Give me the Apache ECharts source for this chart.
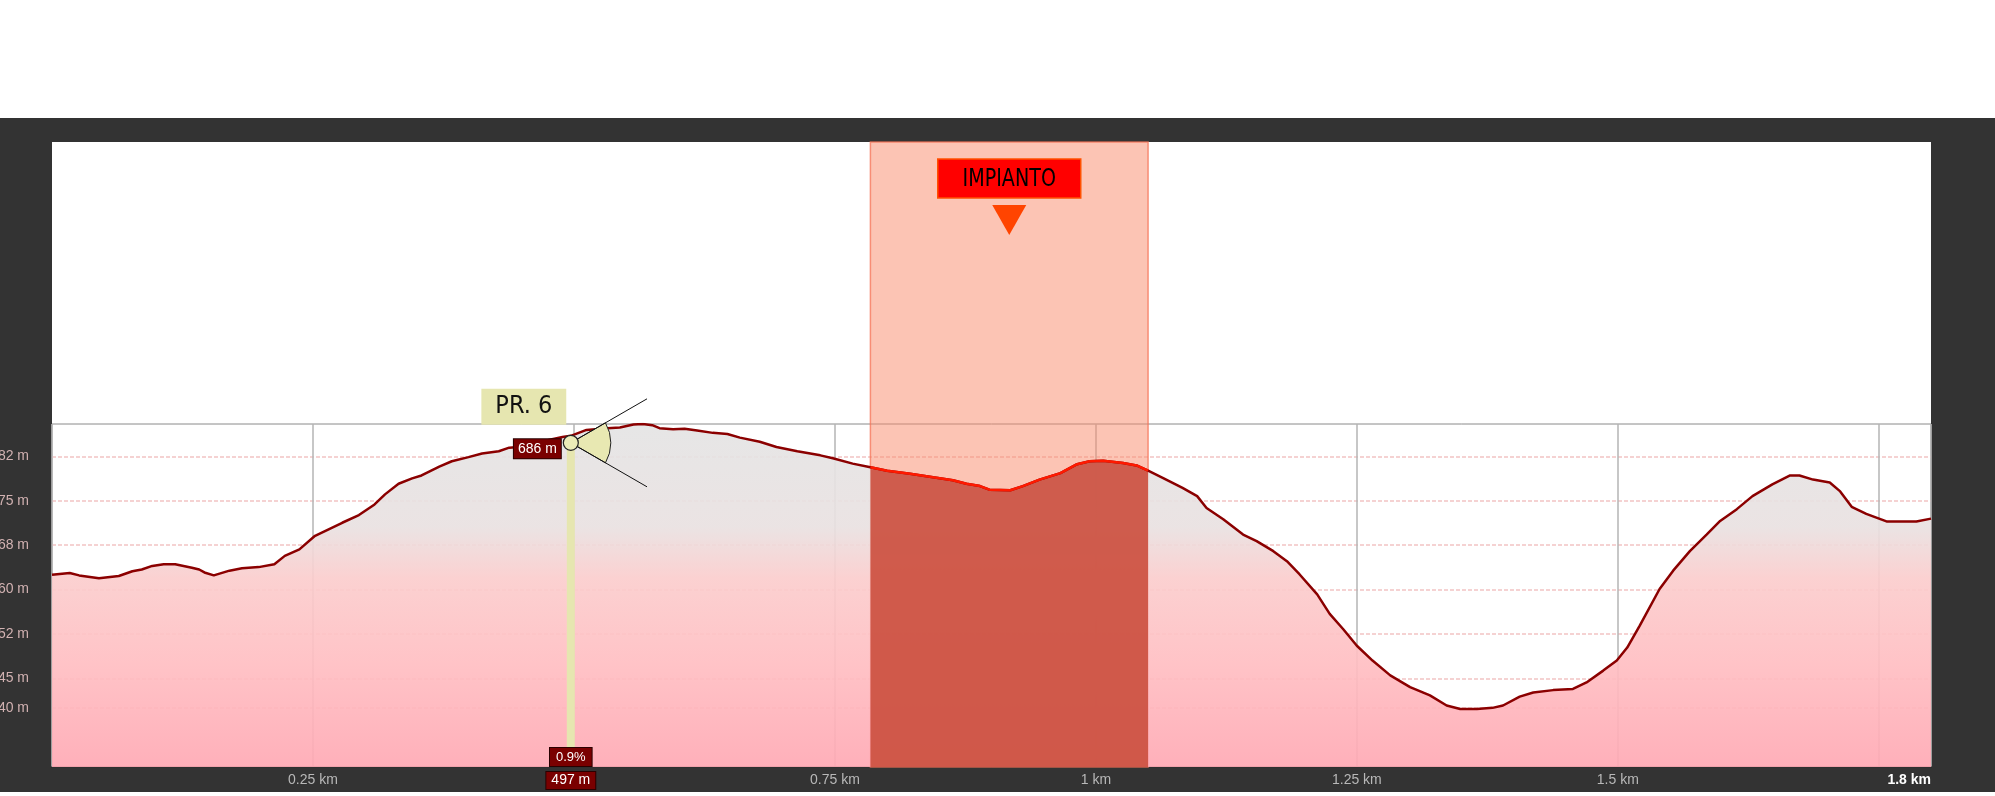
<!DOCTYPE html>
<html>
<head>
<meta charset="utf-8">
<script src="https://cdn.jsdelivr.net/npm/echarts@6/dist/echarts.min.js"></script>
<style>
html,body{margin:0;padding:0;background:#fff;}
#c{width:1995px;height:796px;}
</style>
</head>
<body>
<div id="c"></div>
<script>
// ---- data ----
const distKm = [0.000,0.017,0.026,0.045,0.064,0.077,0.086,0.096,0.107,0.118,
0.134,0.141,0.146,0.155,0.170,0.182,0.198,0.213,0.223,0.237,
0.252,0.265,0.278,0.294,0.309,0.319,0.332,0.345,0.354,0.371,
0.383,0.399,0.412,0.428,0.438,0.447,0.468,0.489,0.497,0.512,
0.532,0.544,0.557,0.566,0.575,0.582,0.595,0.606,0.618,0.633,
0.647,0.659,0.678,0.694,0.714,0.736,0.748,0.767,0.784,0.800,
0.822,0.844,0.863,0.876,0.889,0.898,0.918,0.930,0.946,0.966,
0.982,0.994,1.007,1.026,1.039,1.050,1.064,1.083,1.097,1.106,
1.122,1.141,1.154,1.170,1.183,1.195,1.212,1.224,1.237,1.250,
1.265,1.282,1.301,1.320,1.336,1.349,1.365,1.380,1.390,1.406,
1.419,1.438,1.457,1.470,1.486,1.499,1.509,1.521,1.540,1.553,
1.569,1.585,1.598,1.614,1.629,1.648,1.665,1.674,1.687,1.703,
1.713,1.724,1.738,1.758,1.773,1.786,1.800];
const elevM = [662.5,662.8,662.4,661.9,662.3,663.1,663.4,664.0,664.3,664.3,
663.7,663.4,662.9,662.4,663.2,663.6,663.8,664.3,665.7,666.8,
669.1,670.2,671.3,672.6,674.4,676.1,677.9,678.8,679.3,680.8,
681.7,682.4,683.0,683.4,684.0,684.1,685.0,685.8,686.0,687.0,
687.3,687.4,687.9,688.0,687.8,687.3,687.1,687.2,686.9,686.5,
686.3,685.7,685.0,684.1,683.4,682.7,682.2,681.3,680.7,680.1,
679.6,679.0,678.5,677.9,677.5,676.9,676.8,677.5,678.6,679.7,
681.2,681.7,681.8,681.4,681.0,680.1,678.9,677.2,675.8,673.8,
671.9,669.3,668.2,666.5,664.8,662.6,659.2,655.9,653.3,650.5,
648.0,645.5,643.5,642.1,640.4,639.8,639.8,640.0,640.4,641.9,
642.6,643.0,643.2,644.3,646.3,648.0,650.2,653.9,660.1,663.2,
666.5,669.3,671.6,673.6,675.8,677.8,679.3,679.3,678.6,678.1,
676.6,674.0,672.8,671.5,671.5,671.5,672.0];

const yTickValues = [640, 645, 652.5, 660, 667.5, 675, 682.5];
const yTickLabels = ['640 m', '645 m', '652 m', '660 m', '668 m', '675 m', '682 m'];
const xHiddenTicks = [0, 1.75];
const xEndLabel = '1.8 km';

const impiantoRange = [0.784, 1.050];
const impiantoName = 'IMPIANTO';

const prPoint = [0.497, 686];
const prName = 'PR. 6';
const prElevLabel = '686 m';
const prDistLabel = '497 m';
const prGradeLabel = '0.9%';

// ---- chart ----
const X_MIN = 0, X_MAX = 1.8, Y_MIN = 630, Y_MAX = 688;
const FONT = "'Liberation Sans', Arial, sans-serif";
const NARROW = "'Liberation Sans Narrow', 'DejaVu Sans Condensed', 'Liberation Sans', sans-serif";

const profile = distKm.map((d, i) => [d, elevM[i]]);
const impProfile = profile.filter(p => p[0] >= impiantoRange[0] && p[0] <= impiantoRange[1]);

const chart = echarts.init(document.getElementById('c'), null, {renderer: 'canvas', width: 1995, height: 796});

const near = (a, b) => Math.abs(a - b) < 1e-9;

const option = {
  animation: false,
  backgroundColor: 'transparent',
  textStyle: {fontFamily: FONT},
  graphic: [{
    type: 'rect', z: -100, silent: true,
    shape: {x: 0, y: 118, width: 1995, height: 674},
    style: {fill: '#333333'}
  }],
  grid: [
    {left: 52, right: 64, top: 142, bottom: 29, show: true, backgroundColor: '#ffffff', borderWidth: 0,
     containLabel: false, outerBoundsMode: 'none'},
    {left: 52, right: 64, top: 424, bottom: 29, show: true, backgroundColor: 'transparent', borderColor: '#8a8a8a', borderWidth: 1,
     containLabel: false, outerBoundsMode: 'none'}
  ],
  xAxis: [
    {gridIndex: 0, type: 'value', min: X_MIN, max: X_MAX, show: false},
    {
      gridIndex: 1, type: 'value', min: X_MIN, max: X_MAX, interval: 0.25,
      axisLine: {show: true, onZero: false, lineStyle: {color: '#222', width: 1.5}},
      axisTick: {show: false},
      splitLine: {show: true, lineStyle: {color: '#b4b4b4', width: 1.5}},
      axisLabel: {
        show: true, margin: 6, fontSize: 14, color: '#b8b8b8', fontFamily: FONT,
        alignMaxLabel: 'right',
        formatter: v => {
          if (xHiddenTicks.some(h => near(h, v))) return '';
          if (near(v, X_MAX)) return '{end|' + xEndLabel + '}';
          return v + ' km';
        },
        rich: {end: {color: '#ffffff', fontWeight: 'bold', fontSize: 14, fontFamily: FONT}}
      }
    }
  ],
  yAxis: [
    {gridIndex: 0, type: 'value', min: 0, max: 1, show: false},
    {
      gridIndex: 1, type: 'value', min: Y_MIN, max: Y_MAX,
      axisLine: {show: false},
      axisTick: {show: false, customValues: yTickValues},
      axisLabel: {
        customValues: yTickValues, margin: 23, fontSize: 14, color: '#d2b2b2', fontFamily: FONT,
        formatter: v => {
          const i = yTickValues.findIndex(t => near(t, v));
          return i >= 0 ? yTickLabels[i] : '';
        }
      },
      splitLine: {show: true, lineStyle: {color: '#f2c4c4', width: 1.5, type: [4, 2]}}
    }
  ],
  series: [
    {
      name: 'impianto-zone', type: 'custom', xAxisIndex: 0, yAxisIndex: 0, z: 1, clip: false, silent: true,
      data: [[impiantoRange[0], impiantoRange[1]]],
      renderItem: (params, api) => {
        const tl = api.coord([api.value(0), 1]);
        const br = api.coord([api.value(1), 0]);
        const mid = (tl[0] + br[0]) / 2;
        const top = tl[1];
        return {
          type: 'group', children: [
            {type: 'rect', shape: {x: tl[0], y: tl[1], width: br[0] - tl[0], height: br[1] - tl[1]},
             style: {fill: 'rgba(249,137,105,0.5)', stroke: 'rgba(245,115,85,0.75)', lineWidth: 1.5}},
            {type: 'rect', shape: {x: mid - 71.5, y: top + 17, width: 143, height: 39},
             style: {fill: '#ff0000', stroke: '#ff5000', lineWidth: 1.5}},
            {type: 'text', x: mid, y: top + 37, scaleX: 0.85,
             style: {text: impiantoName, fill: '#000', font: '25px ' + NARROW, align: 'center', verticalAlign: 'middle'}},
            {type: 'polygon', shape: {points: [[mid - 17, top + 63], [mid + 17, top + 63], [mid, top + 93]]},
             style: {fill: '#ff4400'}}
          ]
        };
      }
    },
    {
      name: 'profilo', type: 'line', xAxisIndex: 1, yAxisIndex: 1, z: 2,
      data: profile, symbol: 'none', showSymbol: false,
      lineStyle: {color: '#8b0000', width: 2.5},
      areaStyle: {
        origin: 'start', opacity: 0.92,
        color: {type: 'linear', x: 0, y: 0, x2: 0, y2: 1, colorStops: [
          {offset: 0, color: '#e4e4e4'},
          {offset: 0.3, color: '#e9e1e1'},
          {offset: 0.45, color: '#fbcdcd'},
          {offset: 0.7, color: '#ffbec2'},
          {offset: 1, color: '#ffa9b4'}
        ]}
      }
    },
    {
      name: 'impianto', type: 'line', xAxisIndex: 1, yAxisIndex: 1, z: 2,
      data: impProfile, symbol: 'none', showSymbol: false,
      lineStyle: {color: '#ff1a00', width: 2.5},
      areaStyle: {origin: 'start', color: '#cc5040', opacity: 0.92}
    },
    {
      name: 'pr', type: 'custom', xAxisIndex: 1, yAxisIndex: 1, z: 3, clip: false, silent: true,
      data: [prPoint],
      renderItem: (params, api) => {
        const p = api.coord([api.value(0), api.value(1)]);
        const base = api.coord([api.value(0), Y_MIN]);
        const cx = p[0], cy = p[1] + 7;
        const R = 40, L = 88, a = Math.PI / 6;
        const boxStyle = {fill: '#ffffff', font: '13px ' + FONT, backgroundColor: '#7a0000',
                          borderColor: '#2a0000', borderWidth: 1};
        return {
          type: 'group', children: [
            {type: 'rect', shape: {x: cx - 4, y: cy, width: 8, height: base[1] - cy}, style: {fill: '#e6e6b0'}},
            {type: 'sector', shape: {cx: cx, cy: cy, r0: 0, r: R, startAngle: -a, endAngle: a},
             style: {fill: '#e8e8b2', stroke: '#222', lineWidth: 1}},
            {type: 'line', shape: {x1: cx, y1: cy, x2: cx + L * Math.cos(a), y2: cy - L * Math.sin(a)},
             style: {stroke: '#111', lineWidth: 1}},
            {type: 'line', shape: {x1: cx, y1: cy, x2: cx + L * Math.cos(a), y2: cy + L * Math.sin(a)},
             style: {stroke: '#111', lineWidth: 1}},
            {type: 'circle', shape: {cx: cx, cy: cy, r: 7.5}, style: {fill: '#ececb8', stroke: '#222', lineWidth: 1.2}},
            {type: 'text', x: cx - 10, y: cy + 6,
             style: Object.assign({}, boxStyle, {text: prElevLabel, font: '14px ' + FONT, align: 'right', verticalAlign: 'middle', padding: [3, 4, 2, 4]})},
            {type: 'text', x: cx - 47, y: cy - 36,
             style: {text: prName, fill: '#111', font: '25px ' + NARROW, align: 'center', verticalAlign: 'middle',
                     backgroundColor: '#e6e6b0', padding: [6, 14, 5, 14]}},
            {type: 'text', x: cx, y: base[1] - 10,
             style: Object.assign({}, boxStyle, {text: prGradeLabel, align: 'center', verticalAlign: 'middle', padding: [3, 6, 2, 6]})},
            {type: 'text', x: cx, y: base[1] + 13.5,
             style: Object.assign({}, boxStyle, {text: prDistLabel, font: '14px ' + FONT, align: 'center', verticalAlign: 'middle', padding: [2, 5, 1, 5]})}
          ]
        };
      }
    }
  ]
};

chart.setOption(option);
</script>
</body>
</html>
